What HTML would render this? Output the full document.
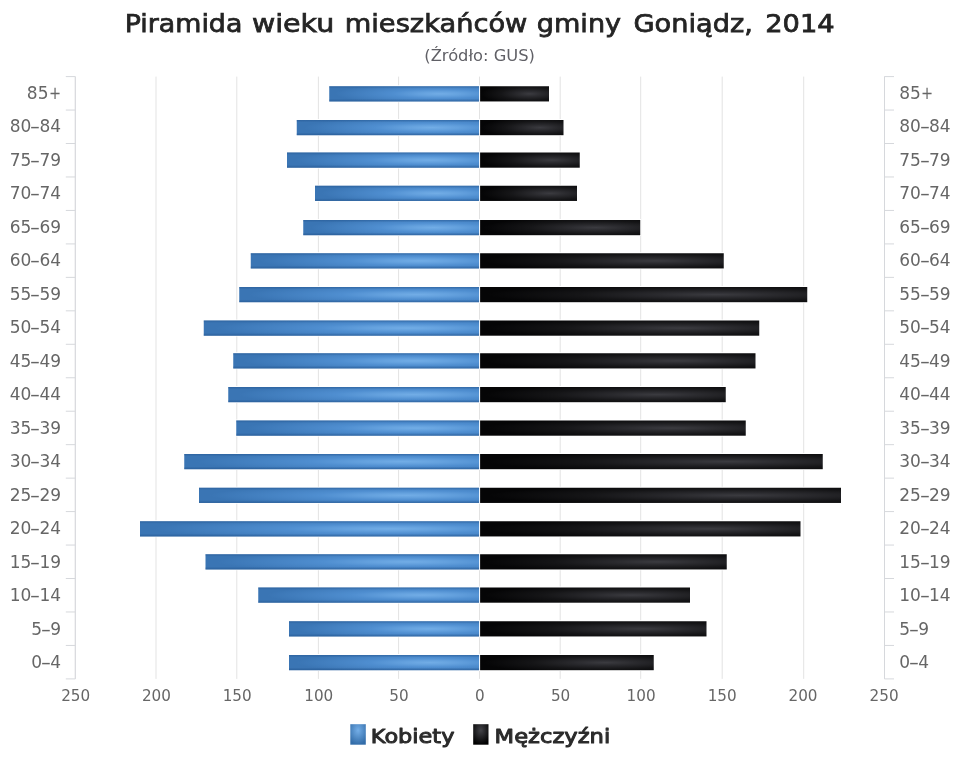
<!DOCTYPE html>
<html lang="pl">
<head>
<meta charset="utf-8">
<title>Piramida wieku mieszkańców gminy Goniądz, 2014</title>
<style>
html,body{margin:0;padding:0;background:#fff;}
body{width:960px;height:768px;overflow:hidden;position:relative;}
svg{display:block;position:absolute;left:0;top:0;filter:blur(0.4px);}
text{font-family:"DejaVu Sans","Liberation Sans",sans-serif;}
.t{font-size:24.8px;fill:#242424;stroke:#242424;stroke-width:0.75px;}
.s{font-size:16.6px;fill:#606066;}
.a text{font-size:15.2px;fill:#666;}
text.l{font-size:20.3px;fill:#2b2b2b;stroke:#2b2b2b;stroke-width:1.0px;stroke-linejoin:round;}
.c{position:absolute;font-family:"DejaVu Sans","Liberation Sans",sans-serif;font-size:17px;line-height:20px;height:20px;color:#666;white-space:nowrap;filter:blur(0.4px);}
.cl{right:898.9px;text-align:right;}
.cr{left:899.2px;}
.p{display:inline-block;transform:scaleX(0.85);margin:0 -1px 0 -0.6px;}
.d{display:inline-block;transform:scaleX(1.7);margin:0 1.1px 0 0.9px;}
</style>
</head>
<body>
<svg width="960" height="768" viewBox="0 0 960 768">
<defs>
<radialGradient id="gb" cx="0.74" cy="0.5" r="0.7"><stop offset="0" stop-color="#72ade6"/><stop offset="0.2" stop-color="#64a1de"/><stop offset="0.45" stop-color="#4f8ed0"/><stop offset="1" stop-color="#3a75b4"/></radialGradient>
<radialGradient id="gk" cx="0.72" cy="0.5" r="0.7"><stop offset="0" stop-color="#3b3b40"/><stop offset="0.25" stop-color="#2a2a2e"/><stop offset="0.6" stop-color="#151517"/><stop offset="1" stop-color="#050506"/></radialGradient>
<radialGradient id="lb" cx="0.5" cy="0.3" r="0.7"><stop offset="0" stop-color="#74aee7"/><stop offset="1" stop-color="#336da9"/></radialGradient>
<radialGradient id="lk" cx="0.5" cy="0.3" r="0.7"><stop offset="0" stop-color="#434348"/><stop offset="1" stop-color="#000000"/></radialGradient>
<linearGradient id="rim" x1="0" y1="0" x2="0" y2="1"><stop offset="0" stop-color="#1f4f88" stop-opacity="0.45"/><stop offset="0.16" stop-color="#1f4f88" stop-opacity="0"/><stop offset="0.82" stop-color="#1f4f88" stop-opacity="0"/><stop offset="1" stop-color="#1f4f88" stop-opacity="0.55"/></linearGradient>
</defs>
<rect x="0" y="0" width="960" height="768" fill="#ffffff"/>
<g stroke="#e3e3e3" stroke-width="1">
<line x1="75.30" y1="76.6" x2="75.30" y2="678.9"/>
<line x1="156.00" y1="76.6" x2="156.00" y2="678.9"/>
<line x1="236.80" y1="76.6" x2="236.80" y2="678.9"/>
<line x1="318.40" y1="76.6" x2="318.40" y2="678.9"/>
<line x1="398.60" y1="76.6" x2="398.60" y2="678.9"/>
<line x1="479.50" y1="76.6" x2="479.50" y2="678.9"/>
<line x1="560.20" y1="76.6" x2="560.20" y2="678.9"/>
<line x1="640.70" y1="76.6" x2="640.70" y2="678.9"/>
<line x1="722.20" y1="76.6" x2="722.20" y2="678.9"/>
<line x1="803.70" y1="76.6" x2="803.70" y2="678.9"/>
<line x1="884.50" y1="76.6" x2="884.50" y2="678.9"/>
</g>
<g stroke="#d6d8dc" stroke-width="1" fill="none">
<line x1="75.3" y1="76.6" x2="75.3" y2="678.9"/>
<line x1="884.5" y1="76.6" x2="884.5" y2="678.9"/>
<line x1="65.8" y1="76.60" x2="75.3" y2="76.60"/>
<line x1="884.5" y1="76.60" x2="894.0" y2="76.60"/>
<line x1="65.8" y1="110.06" x2="75.3" y2="110.06"/>
<line x1="884.5" y1="110.06" x2="894.0" y2="110.06"/>
<line x1="65.8" y1="143.52" x2="75.3" y2="143.52"/>
<line x1="884.5" y1="143.52" x2="894.0" y2="143.52"/>
<line x1="65.8" y1="176.98" x2="75.3" y2="176.98"/>
<line x1="884.5" y1="176.98" x2="894.0" y2="176.98"/>
<line x1="65.8" y1="210.44" x2="75.3" y2="210.44"/>
<line x1="884.5" y1="210.44" x2="894.0" y2="210.44"/>
<line x1="65.8" y1="243.91" x2="75.3" y2="243.91"/>
<line x1="884.5" y1="243.91" x2="894.0" y2="243.91"/>
<line x1="65.8" y1="277.37" x2="75.3" y2="277.37"/>
<line x1="884.5" y1="277.37" x2="894.0" y2="277.37"/>
<line x1="65.8" y1="310.83" x2="75.3" y2="310.83"/>
<line x1="884.5" y1="310.83" x2="894.0" y2="310.83"/>
<line x1="65.8" y1="344.29" x2="75.3" y2="344.29"/>
<line x1="884.5" y1="344.29" x2="894.0" y2="344.29"/>
<line x1="65.8" y1="377.75" x2="75.3" y2="377.75"/>
<line x1="884.5" y1="377.75" x2="894.0" y2="377.75"/>
<line x1="65.8" y1="411.21" x2="75.3" y2="411.21"/>
<line x1="884.5" y1="411.21" x2="894.0" y2="411.21"/>
<line x1="65.8" y1="444.67" x2="75.3" y2="444.67"/>
<line x1="884.5" y1="444.67" x2="894.0" y2="444.67"/>
<line x1="65.8" y1="478.13" x2="75.3" y2="478.13"/>
<line x1="884.5" y1="478.13" x2="894.0" y2="478.13"/>
<line x1="65.8" y1="511.59" x2="75.3" y2="511.59"/>
<line x1="884.5" y1="511.59" x2="894.0" y2="511.59"/>
<line x1="65.8" y1="545.06" x2="75.3" y2="545.06"/>
<line x1="884.5" y1="545.06" x2="894.0" y2="545.06"/>
<line x1="65.8" y1="578.52" x2="75.3" y2="578.52"/>
<line x1="884.5" y1="578.52" x2="894.0" y2="578.52"/>
<line x1="65.8" y1="611.98" x2="75.3" y2="611.98"/>
<line x1="884.5" y1="611.98" x2="894.0" y2="611.98"/>
<line x1="65.8" y1="645.44" x2="75.3" y2="645.44"/>
<line x1="884.5" y1="645.44" x2="894.0" y2="645.44"/>
<line x1="65.8" y1="678.90" x2="75.3" y2="678.90"/>
<line x1="884.5" y1="678.90" x2="894.0" y2="678.90"/>
</g>
<g fill="#ffffff">
<rect x="328.35" y="85.25" width="221.55" height="17.00"/>
<rect x="295.85" y="119.00" width="268.55" height="17.00"/>
<rect x="286.10" y="151.50" width="294.55" height="17.00"/>
<rect x="314.10" y="184.75" width="263.80" height="17.00"/>
<rect x="302.35" y="219.00" width="338.80" height="17.00"/>
<rect x="249.85" y="252.25" width="474.80" height="17.00"/>
<rect x="238.35" y="286.00" width="569.80" height="17.00"/>
<rect x="202.85" y="319.50" width="557.30" height="17.00"/>
<rect x="232.35" y="352.25" width="524.05" height="17.00"/>
<rect x="227.35" y="386.00" width="499.30" height="17.00"/>
<rect x="235.35" y="419.50" width="511.30" height="17.00"/>
<rect x="183.35" y="453.00" width="640.30" height="17.00"/>
<rect x="198.10" y="486.75" width="643.80" height="17.00"/>
<rect x="139.10" y="520.25" width="662.30" height="17.00"/>
<rect x="204.60" y="553.25" width="523.05" height="17.00"/>
<rect x="257.35" y="586.50" width="433.55" height="17.00"/>
<rect x="288.10" y="620.25" width="419.30" height="17.00"/>
<rect x="288.10" y="654.00" width="366.55" height="17.00"/>
</g>
<g>
<rect x="329.25" y="86.25" width="149.85" height="15.20" fill="url(#gb)"/>
<rect x="296.75" y="120.00" width="182.35" height="15.20" fill="url(#gb)"/>
<rect x="287.00" y="152.50" width="192.10" height="15.20" fill="url(#gb)"/>
<rect x="315.00" y="185.75" width="164.10" height="15.20" fill="url(#gb)"/>
<rect x="303.25" y="220.00" width="175.85" height="15.20" fill="url(#gb)"/>
<rect x="250.75" y="253.25" width="228.35" height="15.20" fill="url(#gb)"/>
<rect x="239.25" y="287.00" width="239.85" height="15.20" fill="url(#gb)"/>
<rect x="203.75" y="320.50" width="275.35" height="15.20" fill="url(#gb)"/>
<rect x="233.25" y="353.25" width="245.85" height="15.20" fill="url(#gb)"/>
<rect x="228.25" y="387.00" width="250.85" height="15.20" fill="url(#gb)"/>
<rect x="236.25" y="420.50" width="242.85" height="15.20" fill="url(#gb)"/>
<rect x="184.25" y="454.00" width="294.85" height="15.20" fill="url(#gb)"/>
<rect x="199.00" y="487.75" width="280.10" height="15.20" fill="url(#gb)"/>
<rect x="140.00" y="521.25" width="339.10" height="15.20" fill="url(#gb)"/>
<rect x="205.50" y="554.25" width="273.60" height="15.20" fill="url(#gb)"/>
<rect x="258.25" y="587.50" width="220.85" height="15.20" fill="url(#gb)"/>
<rect x="289.00" y="621.25" width="190.10" height="15.20" fill="url(#gb)"/>
<rect x="289.00" y="655.00" width="190.10" height="15.20" fill="url(#gb)"/>
<rect x="329.25" y="86.25" width="149.85" height="15.20" fill="url(#rim)"/>
<rect x="296.75" y="120.00" width="182.35" height="15.20" fill="url(#rim)"/>
<rect x="287.00" y="152.50" width="192.10" height="15.20" fill="url(#rim)"/>
<rect x="315.00" y="185.75" width="164.10" height="15.20" fill="url(#rim)"/>
<rect x="303.25" y="220.00" width="175.85" height="15.20" fill="url(#rim)"/>
<rect x="250.75" y="253.25" width="228.35" height="15.20" fill="url(#rim)"/>
<rect x="239.25" y="287.00" width="239.85" height="15.20" fill="url(#rim)"/>
<rect x="203.75" y="320.50" width="275.35" height="15.20" fill="url(#rim)"/>
<rect x="233.25" y="353.25" width="245.85" height="15.20" fill="url(#rim)"/>
<rect x="228.25" y="387.00" width="250.85" height="15.20" fill="url(#rim)"/>
<rect x="236.25" y="420.50" width="242.85" height="15.20" fill="url(#rim)"/>
<rect x="184.25" y="454.00" width="294.85" height="15.20" fill="url(#rim)"/>
<rect x="199.00" y="487.75" width="280.10" height="15.20" fill="url(#rim)"/>
<rect x="140.00" y="521.25" width="339.10" height="15.20" fill="url(#rim)"/>
<rect x="205.50" y="554.25" width="273.60" height="15.20" fill="url(#rim)"/>
<rect x="258.25" y="587.50" width="220.85" height="15.20" fill="url(#rim)"/>
<rect x="289.00" y="621.25" width="190.10" height="15.20" fill="url(#rim)"/>
<rect x="289.00" y="655.00" width="190.10" height="15.20" fill="url(#rim)"/>
<rect x="480.10" y="86.25" width="68.90" height="15.20" fill="url(#gk)"/>
<rect x="480.10" y="120.00" width="83.40" height="15.20" fill="url(#gk)"/>
<rect x="480.10" y="152.50" width="99.65" height="15.20" fill="url(#gk)"/>
<rect x="480.10" y="185.75" width="96.90" height="15.20" fill="url(#gk)"/>
<rect x="480.10" y="220.00" width="160.15" height="15.20" fill="url(#gk)"/>
<rect x="480.10" y="253.25" width="243.65" height="15.20" fill="url(#gk)"/>
<rect x="480.10" y="287.00" width="327.15" height="15.20" fill="url(#gk)"/>
<rect x="480.10" y="320.50" width="279.15" height="15.20" fill="url(#gk)"/>
<rect x="480.10" y="353.25" width="275.40" height="15.20" fill="url(#gk)"/>
<rect x="480.10" y="387.00" width="245.65" height="15.20" fill="url(#gk)"/>
<rect x="480.10" y="420.50" width="265.65" height="15.20" fill="url(#gk)"/>
<rect x="480.10" y="454.00" width="342.65" height="15.20" fill="url(#gk)"/>
<rect x="480.10" y="487.75" width="360.90" height="15.20" fill="url(#gk)"/>
<rect x="480.10" y="521.25" width="320.40" height="15.20" fill="url(#gk)"/>
<rect x="480.10" y="554.25" width="246.65" height="15.20" fill="url(#gk)"/>
<rect x="480.10" y="587.50" width="209.90" height="15.20" fill="url(#gk)"/>
<rect x="480.10" y="621.25" width="226.40" height="15.20" fill="url(#gk)"/>
<rect x="480.10" y="655.00" width="173.65" height="15.20" fill="url(#gk)"/>
</g>
<text class="t" y="32"><tspan x="124.75" textLength="117.60" lengthAdjust="spacingAndGlyphs">Piramida</tspan> <tspan x="251.90" textLength="82.30" lengthAdjust="spacingAndGlyphs">wieku</tspan> <tspan x="344.75" textLength="182.60" lengthAdjust="spacingAndGlyphs">mieszkańców</tspan> <tspan x="536.80" textLength="84.30" lengthAdjust="spacingAndGlyphs">gminy</tspan> <tspan x="633.50" textLength="119.30" lengthAdjust="spacingAndGlyphs">Goniądz,</tspan> <tspan x="765.20" textLength="69.40" lengthAdjust="spacingAndGlyphs">2014</tspan></text>
<text class="s" x="424.3" y="60.9" textLength="110.6" lengthAdjust="spacingAndGlyphs">(Źródło: GUS)</text>
<g class="a" text-anchor="middle">
<text x="75.70" y="700.8">250</text>
<text x="156.40" y="700.8">200</text>
<text x="237.20" y="700.8">150</text>
<text x="318.80" y="700.8">100</text>
<text x="399.00" y="700.8">50</text>
<text x="479.90" y="700.8">0</text>
<text x="560.60" y="700.8">50</text>
<text x="641.10" y="700.8">100</text>
<text x="722.20" y="700.8">150</text>
<text x="803.00" y="700.8">200</text>
<text x="884.10" y="700.8">250</text>
</g>
<rect x="350.3" y="724.2" width="15.5" height="20.5" fill="url(#lb)"/>
<text class="l" x="370.8" y="743.2" textLength="83.6" lengthAdjust="spacingAndGlyphs">Kobiety</text>
<rect x="473.2" y="724.2" width="15.3" height="20.5" fill="url(#lk)"/>
<text class="l" x="494.6" y="742.9" textLength="115.6" lengthAdjust="spacingAndGlyphs">Mężczyźni</text>
</svg>
<div class="c cl" style="top:82.85px">85<span class="p">+</span></div>
<div class="c cr" style="top:82.85px">85<span class="p">+</span></div>
<div class="c cl" style="top:116.35px">80<span class="d">-</span>84</div>
<div class="c cr" style="top:116.35px">80<span class="d">-</span>84</div>
<div class="c cl" style="top:149.85px">75<span class="d">-</span>79</div>
<div class="c cr" style="top:149.85px">75<span class="d">-</span>79</div>
<div class="c cl" style="top:183.35px">70<span class="d">-</span>74</div>
<div class="c cr" style="top:183.35px">70<span class="d">-</span>74</div>
<div class="c cl" style="top:216.85px">65<span class="d">-</span>69</div>
<div class="c cr" style="top:216.85px">65<span class="d">-</span>69</div>
<div class="c cl" style="top:250.35px">60<span class="d">-</span>64</div>
<div class="c cr" style="top:250.35px">60<span class="d">-</span>64</div>
<div class="c cl" style="top:283.85px">55<span class="d">-</span>59</div>
<div class="c cr" style="top:283.85px">55<span class="d">-</span>59</div>
<div class="c cl" style="top:317.35px">50<span class="d">-</span>54</div>
<div class="c cr" style="top:317.35px">50<span class="d">-</span>54</div>
<div class="c cl" style="top:350.85px">45<span class="d">-</span>49</div>
<div class="c cr" style="top:350.85px">45<span class="d">-</span>49</div>
<div class="c cl" style="top:384.35px">40<span class="d">-</span>44</div>
<div class="c cr" style="top:384.35px">40<span class="d">-</span>44</div>
<div class="c cl" style="top:417.85px">35<span class="d">-</span>39</div>
<div class="c cr" style="top:417.85px">35<span class="d">-</span>39</div>
<div class="c cl" style="top:451.35px">30<span class="d">-</span>34</div>
<div class="c cr" style="top:451.35px">30<span class="d">-</span>34</div>
<div class="c cl" style="top:484.85px">25<span class="d">-</span>29</div>
<div class="c cr" style="top:484.85px">25<span class="d">-</span>29</div>
<div class="c cl" style="top:518.35px">20<span class="d">-</span>24</div>
<div class="c cr" style="top:518.35px">20<span class="d">-</span>24</div>
<div class="c cl" style="top:551.85px">15<span class="d">-</span>19</div>
<div class="c cr" style="top:551.85px">15<span class="d">-</span>19</div>
<div class="c cl" style="top:585.35px">10<span class="d">-</span>14</div>
<div class="c cr" style="top:585.35px">10<span class="d">-</span>14</div>
<div class="c cl" style="top:618.85px">5<span class="d">-</span>9</div>
<div class="c cr" style="top:618.85px">5<span class="d">-</span>9</div>
<div class="c cl" style="top:652.35px">0<span class="d">-</span>4</div>
<div class="c cr" style="top:652.35px">0<span class="d">-</span>4</div>
</body>
</html>
